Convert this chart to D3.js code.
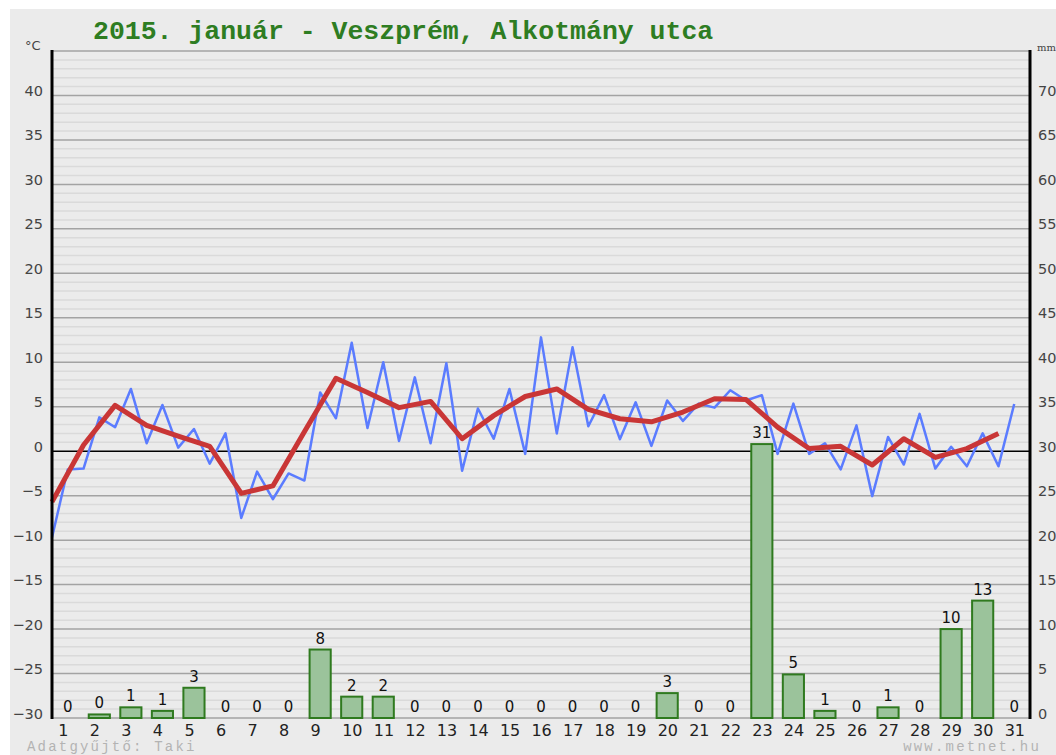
<!DOCTYPE html>
<html>
<head>
<meta charset="utf-8">
<script src="https://cdn.jsdelivr.net/npm/d3@7"></script>
<style>
    body { margin: 0; background: #ffffff; }
    #chart { width: 1056px; height: 755px; }
    .axis text { font-family: "DejaVu Sans", Verdana, sans-serif; fill: #444; }
</style>
</head>
<body>
<div id="chart"></div>
<script>

// days of the month
const days = d3.range(1, 32)

// daily precipitation, mm
const precip = [0, 0.4, 1.2, 0.8, 3.4, 0, 0, 0, 7.7, 2.4, 2.4, 0, 0, 0, 0, 0,
                0, 0, 0, 2.8, 0, 0, 30.8, 4.9, 0.8, 0, 1.2, 0, 10.0, 13.2, 0]

// temperature every 12 hours (00h, 12h), °C
const tempHalfDay = [-9.7, -2.05, -1.95, 3.8, 2.7, 7.0, 0.9, 5.2, 0.4, 2.5,
                     -1.4, 2.0, -7.5, -2.3, -5.4, -2.5, -3.3, 6.6, 3.7, 12.2,
                     2.6, 10.0, 1.15, 8.3, 0.9, 9.9, -2.2, 4.8, 1.4, 7.0,
                     -0.3, 12.8, 2.0, 11.7, 2.8, 6.3, 1.35, 5.5, 0.6, 5.7,
                     3.4, 5.35, 4.9, 6.85, 5.7, 6.3, -0.3, 5.35, -0.3, 0.9,
                     -2.05, 2.9, -5.05, 1.6, -1.5, 4.2, -1.95, 0.5, -1.7, 2.0,
                     -1.7, 5.3]

// daily mean temperature, °C
const tempMean = [-5.7, 0.7, 5.15, 2.9, 1.7, 0.55, -4.75, -3.9, 2.2, 8.2,
                  6.6, 4.9, 5.6, 1.4, 4.0, 6.15, 7.0, 4.7, 3.65, 3.3,
                  4.4, 5.9, 5.8, 2.7, 0.3, 0.55, -1.55, 1.4, -0.7, 0.3, 2.0]

const tempTicks = d3.range(-30, 41, 5)
const precipTicks = d3.range(0, 71, 5)

const title = "2015. január - Veszprém, Alkotmány utca"
const footerLeft = "Adatgyűjtő: Taki"
const footerRight = "www.metnet.hu"


class MonthChart {

    constructor(parentElement) {
        this.parentElement = parentElement
    }

    initVis() {
        let vis = this

        vis.left = 52
        vis.right = 1030
        vis.top = 51
        vis.bottom = 718

        vis.svg = d3.select("#" + vis.parentElement).append("svg")
            .attr("width", 1056)
            .attr("height", 755)

        // grey page behind the chart
        vis.svg.append("rect")
            .attr("x", 10).attr("y", 9)
            .attr("width", 1046).attr("height", 746)
            .attr("fill", "#ebebeb")

        // scales
        vis.yTemp = d3.scaleLinear().domain([-30, 45]).range([vis.bottom, vis.top])
        vis.yRain = d3.scaleLinear().domain([0, 75]).range([vis.bottom, vis.top])
        vis.xTime = d3.scaleLinear().domain([0, 31]).range([vis.left, vis.right])
        vis.xDay = d3.scaleBand().domain(days).range([vis.left, vis.right])
            .paddingInner(0.33).paddingOuter(0.165)

        // minor and major grid lines
        vis.svg.append("g")
            .selectAll("line")
            .data(d3.range(-30, 46, 1).filter(d => d % 5 !== 0))
            .enter().append("line")
            .attr("x1", vis.left).attr("x2", vis.right)
            .attr("y1", d => vis.yTemp(d)).attr("y2", d => vis.yTemp(d))
            .attr("stroke", "#dadada")
            .attr("stroke-width", 1.5)

        vis.svg.append("g")
            .selectAll("line")
            .data(d3.range(-30, 46, 5))
            .enter().append("line")
            .attr("x1", vis.left).attr("x2", vis.right)
            .attr("y1", d => vis.yTemp(d)).attr("y2", d => vis.yTemp(d))
            .attr("stroke", d => d === 0 ? "#000" : "#a3a3a3")
            .attr("stroke-width", 1.5)

        // left axis (°C)
        vis.svg.append("g")
            .attr("class", "axis")
            .attr("transform", `translate(${vis.left},0)`)
            .call(d3.axisLeft(vis.yTemp).tickValues(tempTicks).tickSize(0).tickPadding(9))
            .call(g => g.select(".domain").remove())
            .selectAll("text").attr("dy", "0").style("font-size", "14.5px")

        // right axis (mm)
        vis.svg.append("g")
            .attr("class", "axis")
            .attr("transform", `translate(${vis.right},0)`)
            .call(d3.axisRight(vis.yRain).tickValues(precipTicks).tickSize(0).tickPadding(8))
            .call(g => g.select(".domain").remove())
            .selectAll("text").attr("dy", "0").style("font-size", "14.5px")

        // day labels
        vis.svg.append("g")
            .attr("class", "axis")
            .attr("transform", `translate(0,${vis.bottom})`)
            .call(d3.axisBottom(vis.xDay).tickSize(0).tickPadding(0))
            .call(g => g.select(".domain").remove())
            .selectAll("text")
            .attr("text-anchor", "start")
            .attr("x", -vis.xDay.bandwidth() / 2 + 1)
            .attr("y", 18)
            .attr("dy", "0")
            .style("font-size", "16px")
            .style("fill", "#222")

        // precipitation bars
        vis.svg.append("g")
            .selectAll("rect")
            .data(precip)
            .enter().append("rect")
            .attr("x", (d, i) => vis.xDay(days[i]))
            .attr("y", d => vis.yRain(d))
            .attr("width", vis.xDay.bandwidth())
            .attr("height", d => vis.yRain(0) - vis.yRain(d))
            .attr("fill", "#9bc39b")
            .attr("stroke", "#2f7a1f")
            .attr("stroke-width", 2)

        vis.svg.append("g")
            .selectAll("text")
            .data(precip)
            .enter().append("text")
            .attr("x", (d, i) => vis.xDay(days[i]) + vis.xDay.bandwidth() / 2)
            .attr("y", d => vis.yRain(d) - 6)
            .attr("text-anchor", "middle")
            .style("font-family", "DejaVu Sans, Verdana, sans-serif")
            .style("font-size", "15px")
            .style("fill", "#111")
            .text(d => Math.round(d))

        // temperature lines
        let halfLine = d3.line()
            .x((d, i) => vis.xTime(i / 2))
            .y(d => vis.yTemp(d))

        vis.svg.append("path")
            .datum(tempHalfDay)
            .attr("d", halfLine)
            .attr("fill", "none")
            .attr("stroke", "#5b7cff")
            .attr("stroke-width", 2.5)
            .attr("stroke-linejoin", "round")

        let meanLine = d3.line()
            .x((d, i) => vis.xTime(i))
            .y(d => vis.yTemp(d))

        vis.svg.append("path")
            .datum(tempMean)
            .attr("d", meanLine)
            .attr("fill", "none")
            .attr("stroke", "#c93636")
            .attr("stroke-width", 5)
            .attr("stroke-linejoin", "round")

        // axis lines
        vis.svg.append("line")
            .attr("x1", vis.left).attr("x2", vis.left)
            .attr("y1", vis.top - 1).attr("y2", vis.bottom + 1)
            .attr("stroke", "#000").attr("stroke-width", 3)
        vis.svg.append("line")
            .attr("x1", vis.right).attr("x2", vis.right)
            .attr("y1", vis.top - 1).attr("y2", vis.bottom + 1)
            .attr("stroke", "#000").attr("stroke-width", 3)

        // units
        vis.svg.append("text")
            .attr("x", 25).attr("y", 50)
            .style("font-family", "DejaVu Sans, Verdana, sans-serif")
            .style("font-size", "13px")
            .style("fill", "#444")
            .text("°C")
        vis.svg.append("text")
            .attr("x", 1037).attr("y", 51)
            .style("font-family", "DejaVu Serif, serif")
            .style("font-size", "10px")
            .style("fill", "#444")
            .text("mm")

        // title
        vis.svg.append("text")
            .attr("x", 93).attr("y", 39)
            .style("font-family", "Liberation Mono, Courier New, monospace")
            .style("font-weight", "bold")
            .style("font-size", "26.5px")
            .style("fill", "#2e7d22")
            .text(title)

        // footer
        vis.svg.append("text")
            .attr("x", 27).attr("y", 751)
            .style("font-family", "Liberation Mono, Courier New, monospace")
            .style("font-size", "14px")
            .style("letter-spacing", "2.2px")
            .style("fill", "#b3b3b3")
            .text(footerLeft)
        vis.svg.append("text")
            .attr("x", 1041).attr("y", 751)
            .attr("text-anchor", "end")
            .style("font-family", "Liberation Mono, Courier New, monospace")
            .style("font-size", "14px")
            .style("letter-spacing", "2.2px")
            .style("fill", "#b3b3b3")
            .text(footerRight)
    }
}

let chart = new MonthChart("chart")
chart.initVis()

</script>
</body>
</html>
